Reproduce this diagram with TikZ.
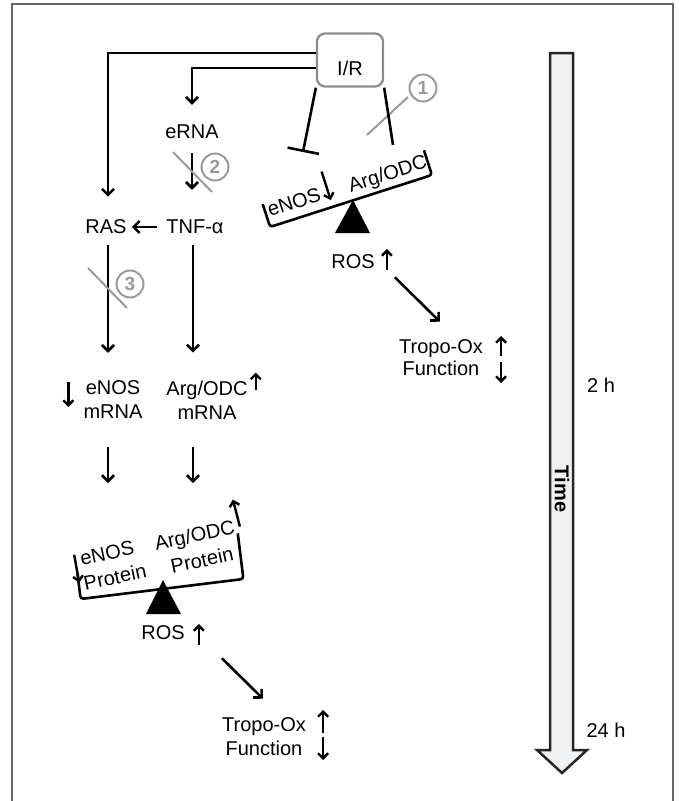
\documentclass[tikz,border=0pt]{standalone}
\usepackage{fontspec}
\setmainfont{Liberation Sans}
\usetikzlibrary{arrows.meta}

\definecolor{crossgray}{HTML}{9A9A9A}
\definecolor{framegray}{HTML}{666666}
\definecolor{timefill}{HTML}{F0F1F3}

\tikzset{
  conn/.style={line width=2.6pt,-{Straight Barb[length=6pt,width=12pt]}},
  updn/.style={line width=2.4pt,-{Straight Barb[length=5pt,width=10pt]}},
  inhib/.style={line width=2.6pt,-{Bar[width=32pt]}},
  crossout/.style={line width=2pt,crossgray},
  numcirc/.style={circle,draw=crossgray,line width=2pt,text=crossgray,inner sep=0pt,minimum size=27pt,font=\fontsize{19}{19}\selectfont\bfseries},
  lbl/.style={inner sep=0pt,align=center},
  beam/.style={line width=2.6pt,rounded corners=3pt},
}

\begin{document}
\begin{tikzpicture}[x=1pt,y=-1pt,font=\fontsize{20}{24}\selectfont]
\useasboundingbox (0,0) rectangle (679,801);
% frame
\draw[framegray,line width=2pt] (12,801) -- (12,4) -- (673,4) -- (673,801);

% time axis
\draw[fill=timefill,draw=black!85,line width=2.5pt] (550,53) -- (573,53) -- (573,750) -- (587,750) -- (562,773) -- (537,750) -- (550,750) -- cycle;
\node[rotate=-90,font=\fontsize{20}{24}\selectfont\bfseries] (time) at (562,489) {Time};
\node[lbl] (t2) at (601,385) {2 h};
\node[lbl] (t24) at (606,730) {24 h};

% insult
\node[draw=black!45,line width=2.3pt,rounded corners=8pt,minimum width=66pt,minimum height=53pt,inner sep=0pt,text height=30pt,text depth=0pt] (ir) at (350,60) {I/R};

% left branch
\node[lbl] (erna) at (192,132) {eRNA};
\node[lbl] (tnf) at (195,227) {TNF-α};
\node[lbl] (ras) at (106,227) {RAS};
\node[lbl] (enosm) at (113,400) {eNOS\\mRNA};
\node[lbl] (argm) at (207,400) {Arg/ODC\\mRNA};
\coordinate (lpin) at (108,483);
\coordinate (rpin) at (193,483);

\draw[conn,shorten >=23pt] ([yshift=7pt]ir.west) -| ([xshift=2pt]ras.north);
\draw[conn,shorten >=20pt] ([yshift=-8pt]ir.west) -| (erna.north);
\draw[conn,shorten <=14pt,shorten >=30pt] (erna.south) -- (erna.south |- tnf.north);
\draw[conn,shorten <=9pt,shorten >=5pt] (tnf.west) -- (ras.east);
\draw[conn,shorten <=11pt,shorten >=28pt] ([xshift=2pt]ras.south) -- ([xshift=2pt]ras.south |- enosm.north);
\draw[conn,shorten <=11pt,shorten >=28pt] ([xshift=-2pt]tnf.south) -- ([xshift=-2pt]tnf.south |- argm.north);
\draw[conn,shorten <=28pt] (lpin |- enosm.south) -- (lpin);
\draw[conn,shorten <=28pt] (rpin |- argm.south) -- (rpin);
\draw[updn] ([xshift=-15pt,yshift=18pt]enosm.west) -- ++(0,25);
\draw[updn] ([xshift=8pt,yshift=-9pt]argm.north east) -- ++(0,-17);

% blocked steps
\draw[crossout] (173,152) -- (212,192);
\node[numcirc] (n2) at (215,167) {2};
\draw[crossout] (88,268) -- (127,308);
\node[numcirc] (n3) at (130,284) {3};
\draw[crossout] (367,135) -- (408,97);
\node[numcirc] (n1) at (423,88) {1};

% early balance
\coordinate (tbar) at (303,152);
\coordinate (argtop) at (393,145);
\draw[inhib] (ir.south west) -- (tbar);
\draw[line width=2.6pt] (ir.south east) -- (argtop);
\begin{scope}[shift={(351,201)},rotate=17.8]
\draw[beam] (-85,-24) -- (-85,0) -- (85,0) -- (85,-26);
\draw[updn] (-19,-37) -- (-19,-7);
\end{scope}
\node[lbl,rotate=17.8] (senos) at (294,202) {eNOS};
\node[lbl,rotate=17.8] (sarg) at (388,175) {Arg/ODC};
\fill (353,200) -- (370,233) -- (335,233) -- cycle;

\node[lbl] (ros1) at (353,262) {ROS};
\draw[updn] ([xshift=12pt,yshift=-8pt]ros1.east) -- ++(0,-21);
\node[lbl,font=\fontsize{20}{22}\selectfont] (tox1) at (441,358) {Tropo-Ox\\Function};
\draw[conn] ([shift={(20,8)}]ros1.south east) -- ([shift={(41,-18)}]tox1.north west);
\draw[updn] ([xshift=18pt,yshift=2pt]tox1.east) -- ++(0,-20);
\draw[updn] ([xshift=18pt,yshift=-4pt]tox1.east) -- ++(0,21);

% late balance
\begin{scope}[shift={(162,589)},rotate=7]
\draw[beam] (-82,-26) -- (-82,0) -- (82,0) -- (82,-46);
\end{scope}
\node[lbl,rotate=12] (bnos) at (107,553) {eNOS};
\node[lbl,rotate=12] (bnosp) at (115,577) {Protein};
\node[lbl,rotate=12] (barg) at (195,537) {Arg/ODC};
\node[lbl,rotate=12] (bargp) at (202,560) {Protein};
\draw[updn] ([shift={(-6,-4)}]bnos.west) -- ++(5,28);
\draw[updn] ([shift={(5,-2)}]barg.east) -- ++(-7,-27);
\fill (163,580) -- (181,614) -- (146,614) -- cycle;

\node[lbl] (ros2) at (163,633) {ROS};
\draw[updn] ([xshift=14pt,yshift=-12pt]ros2.east) -- ++(0,-21);
\node[lbl] (tox2) at (264,737) {Tropo-Ox\\Function};
\draw[conn] ([shift={(37,18)}]ros2.south east) -- ([shift={(41,-19)}]tox2.north west);
\draw[updn] ([xshift=17pt,yshift=4pt]tox2.east) -- ++(0,-23);
\draw[updn] ([xshift=17pt]tox2.east) -- ++(0,23);
\end{tikzpicture}
\end{document}
